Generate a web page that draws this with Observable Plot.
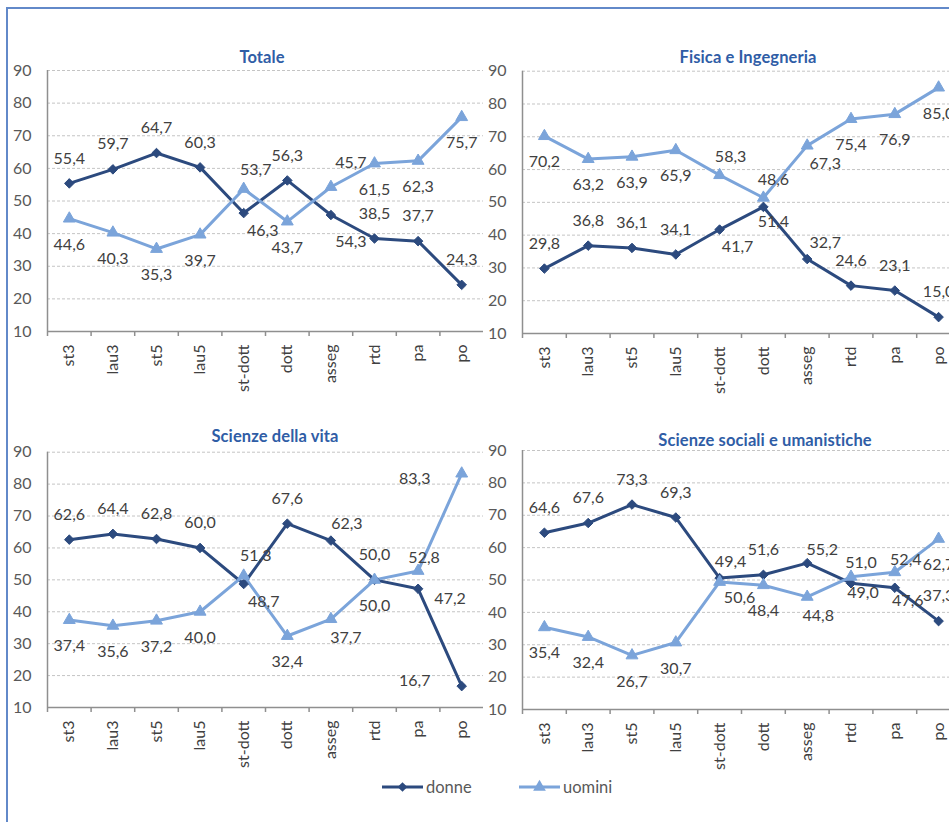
<!DOCTYPE html>
<html>
<head>
<meta charset="utf-8">
<script src="https://cdn.jsdelivr.net/npm/d3@7"></script>
<script src="https://cdn.jsdelivr.net/npm/@observablehq/plot@0.6"></script>
<style>
  html, body { margin: 0; padding: 0; background: #fff; }
  #root { position: relative; width: 949px; height: 822px; overflow: hidden; background: #fff; font-family: Lato, "Open Sans", sans-serif; }
  #frame { position: absolute; left: 6px; top: 7px; width: 1200px; height: 1200px; border-left: 2px solid #6289C9; border-top: 2px solid #6289C9; }
  .panel { position: absolute; }
  .panel svg { max-width: none !important; }
  .title { position: absolute; transform: translate(-50%, -50%); font-weight: 700; font-size: 16.5px; color: #2F5DA6; white-space: nowrap; letter-spacing: 0.1px; }
  #legend { position: absolute; left: 0; top: 772px; }
</style>
</head>
<body>
<div id="root"><div id="frame"></div></div>
<script>
// ---------- data ----------
const categories = ["st3", "lau3", "st5", "lau5", "st-dott", "dott", "asseg", "rtd", "pa", "po"];
const yTicks = [10, 20, 30, 40, 50, 60, 70, 80, 90];

const totaleDonne  = [55.4, 59.7, 64.7, 60.3, 46.3, 56.3, 45.7, 38.5, 37.7, 24.3];
const totaleUomini = [44.6, 40.3, 35.3, 39.7, 53.7, 43.7, 54.3, 61.5, 62.3, 75.7];

const fisicaDonne  = [29.8, 36.8, 36.1, 34.1, 41.7, 48.6, 32.7, 24.6, 23.1, 15.0];
const fisicaUomini = [70.2, 63.2, 63.9, 65.9, 58.3, 51.4, 67.3, 75.4, 76.9, 85.0];

const vitaDonne  = [62.6, 64.4, 62.8, 60.0, 48.7, 67.6, 62.3, 50.0, 47.2, 16.7];
const vitaUomini = [37.4, 35.6, 37.2, 40.0, 51.3, 32.4, 37.7, 50.0, 52.8, 83.3];

const socialiDonne  = [64.6, 67.6, 73.3, 69.3, 50.6, 51.6, 55.2, 49.0, 47.6, 37.3];
const socialiUomini = [35.4, 32.4, 26.7, 30.7, 49.4, 48.4, 44.8, 51.0, 52.4, 62.7];

const seriesNames = ["donne", "uomini"];
const panelTitles = ["Totale", "Fisica e Ingegneria", "Scienze della vita", "Scienze sociali e umanistiche"];

// ---------- style ----------
const colors = { donne: "#2C4A7E", uomini: "#7BA4DA" };
const defaultOffset = { donne: [0, -25], uomini: [0, 26] };
const labelOffsets = [
  { donne: {4: [19, 18], 6: [20, -52]}, uomini: {4: [12, -19], 6: [20, 55]} },
  { donne: {4: [18, 17], 5: [10, -27], 6: [18, -16]}, uomini: {4: [11, -18], 5: [10, 24], 6: [18, 18]} },
  { donne: {4: [20, 18], 6: [16, -17], 8: [32, 10], 9: [-47, -5]}, uomini: {4: [12, -20], 6: [15, 19], 8: [6, -13], 9: [-47, 5]} },
  { donne: {4: [20, 20], 6: [15, -13], 7: [12, 10], 8: [13, 13]}, uomini: {4: [11, -20], 6: [11, 19], 7: [10, -14], 8: [11, -12]} }
];
const layouts = [
  { left: 0,   top: 0,   width: 490, height: 400, mL: 47, mR: 7, mT: 70,   mB: 69,  tx: 262, ty: 57 },
  { left: 480, top: 0,   width: 480, height: 400, mL: 42, mR: 0, mT: 70.7, mB: 67,  tx: 748, ty: 57 },
  { left: 0,   top: 400, width: 490, height: 422, mL: 47, mR: 7, mT: 51.7, mB: 115, tx: 275, ty: 436 },
  { left: 480, top: 400, width: 480, height: 422, mL: 42, mR: 0, mT: 50,   mB: 113, tx: 765, ty: 440 }
];
const panelSeries = [
  [totaleDonne, totaleUomini],
  [fisicaDonne, fisicaUomini],
  [vitaDonne, vitaUomini],
  [socialiDonne, socialiUomini]
];

const FS = 16;
const fmt = d3.formatLocale({decimal: ",", thousands: ".", grouping: [3], currency: ["", "€"]}).format(".1f");
const root = document.getElementById("root");

panelSeries.forEach((vals, p) => {
  const L = layouts[p];
  const rows = {};
  seriesNames.forEach((s, k) => {
    rows[s] = categories.map((c, i) => ({cat: c, i, x: i + 0.5, v: vals[k][i], s}));
  });
  const labelMarks = [];
  seriesNames.forEach(s => {
    rows[s].forEach(d => {
      const off = labelOffsets[p][s][d.i] || defaultOffset[s];
      labelMarks.push(Plot.text([d], {
        x: "x", y: "v", text: dd => fmt(dd.v), dx: off[0], dy: off[1],
        fill: "#404040", fontSize: FS, fontFamily: "Lato"
      }));
    });
  });

  const chart = Plot.plot({
    width: L.width, height: L.height,
    marginLeft: L.mL, marginRight: L.mR, marginTop: L.mT, marginBottom: L.mB,
    style: {background: "transparent", overflow: "visible", fontFamily: "Lato", fontSize: FS + "px", maxWidth: "none"},
    x: {type: "linear", domain: [0, 10], axis: null, label: null},
    y: {type: "linear", domain: [10, 90], axis: null, label: null},
    marks: [
      Plot.gridY({ticks: yTicks.slice(1), stroke: "#C4C4C4", strokeOpacity: 1, strokeWidth: 1, strokeDasharray: "3,2"}),
      Plot.axisY({ticks: yTicks, tickSize: 0, tickPadding: 16, tickFormat: d => String(d), fill: "#595959", fontSize: FS, label: null}),
      Plot.axisX({ticks: d3.range(0, 10), tickSize: 5, tickFormat: () => "", stroke: "#8F8F8F", strokeWidth: 1.5, label: null}),
      Plot.axisX({ticks: categories.map((c, i) => i + 0.5), tickSize: 0, tickPadding: 13, tickRotate: -90,
        tickFormat: d => categories[Math.floor(d)], fill: "#404040", fontSize: FS, label: null}),
      Plot.ruleX([0], {stroke: "#8F8F8F", strokeWidth: 1.5}),
      Plot.ruleY([10], {stroke: "#8F8F8F", strokeWidth: 1.5}),
      Plot.line(rows.donne, {x: "x", y: "v", stroke: colors.donne, strokeWidth: 3}),
      Plot.line(rows.uomini, {x: "x", y: "v", stroke: colors.uomini, strokeWidth: 3}),
      Plot.dot(rows.donne, {x: "x", y: "v", symbol: "diamond2", r: 4.3, fill: colors.donne, stroke: colors.donne, strokeWidth: 1}),
      Plot.dot(rows.uomini, {x: "x", y: "v", symbol: "triangle", r: 4.4, fill: colors.uomini, stroke: colors.uomini, strokeWidth: 1}),
      ...labelMarks
    ]
  });
  const holder = document.createElement("div");
  holder.className = "panel";
  holder.style.left = L.left + "px";
  holder.style.top = L.top + "px";
  holder.style.width = L.width + "px";
  holder.style.height = L.height + "px";
  holder.appendChild(chart);
  root.appendChild(holder);

  const t = document.createElement("div");
  t.className = "title";
  t.style.left = L.tx + "px";
  t.style.top = L.ty + "px";
  t.textContent = panelTitles[p];
  root.appendChild(t);
});

// ---------- legend ----------
const legendItems = [
  {name: "donne", x0: 382, symbol: d3.symbolDiamond2, size: 60},
  {name: "uomini", x0: 519, symbol: d3.symbolTriangle, size: 70}
];
const lg = d3.select(root).append("svg").attr("id", "legend").attr("width", 949).attr("height", 30);
legendItems.forEach(it => {
  const g = lg.append("g").attr("transform", `translate(${it.x0},15)`);
  g.append("line").attr("x1", 0).attr("x2", 41).attr("y1", 0).attr("y2", 0)
    .attr("stroke", colors[it.name]).attr("stroke-width", 3);
  g.append("path").attr("d", d3.symbol(it.symbol, it.size)()).attr("transform", "translate(20.5,0)")
    .attr("fill", colors[it.name]);
  g.append("text").attr("x", 44).attr("y", 0).attr("dy", "0.35em").text(it.name)
    .attr("fill", "#595959").attr("font-size", 16.5).attr("font-family", "Lato");
});
</script>
</body>
</html>
